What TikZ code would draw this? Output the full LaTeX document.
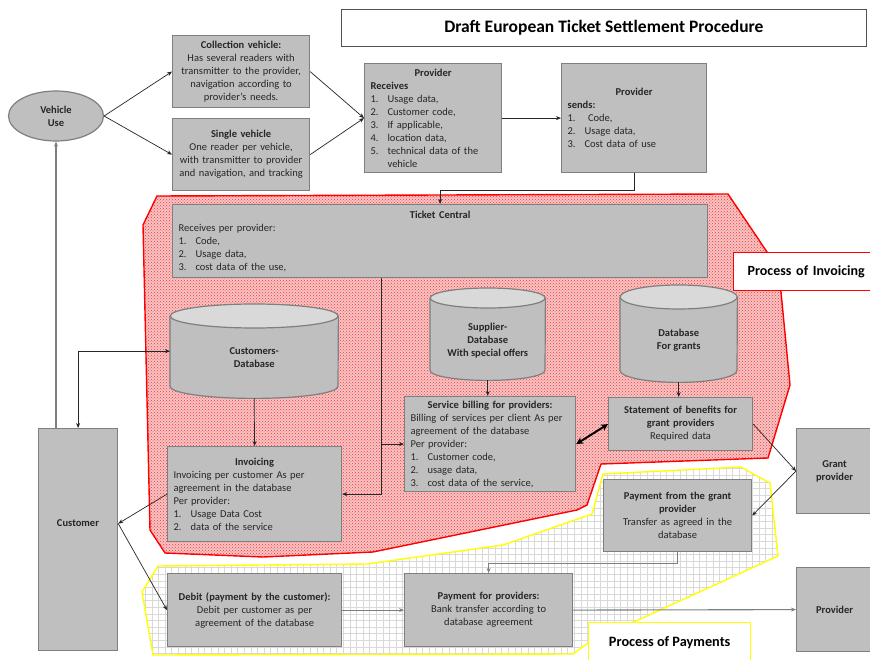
\documentclass[tikz,border=0pt]{standalone}
\usepackage{fontspec}
\setmainfont{Carlito}
\usetikzlibrary{arrows.meta,shapes.geometric,patterns}
\definecolor{boxfill}{HTML}{BFBFBF}
\definecolor{boxline}{HTML}{7F7F7F}
\definecolor{cyltop}{HTML}{D9D9D9}
\definecolor{ln}{HTML}{262626}
\definecolor{pinkbg}{HTML}{F5C4C4}
\definecolor{ylw}{HTML}{FFFF00}
\newcommand\fs{\fontsize{10.5pt}{13pt}\selectfont}
\newcommand\li[2]{\par\hangindent=17pt\hangafter=1\noindent\makebox[17pt][l]{#1}#2\par}
\newcommand\cyl[3]{%
  \draw[boxline, line width=1.2pt, fill=boxfill] ([yshift=-#3pt]#1.north west) -- ([yshift=#3pt]#1.south west)
     arc[start angle=180, end angle=360, x radius=#2pt, y radius=#3pt] -- ([yshift=-#3pt]#1.north east);
  \draw[boxline, line width=1.2pt, fill=cyltop] ([yshift=-#3pt]#1.north) ellipse[x radius=#2pt, y radius=#3pt];}
\tikzset{
  box/.style={draw=boxline, fill=boxfill, line width=1.2pt, inner xsep=6pt, inner ysep=1pt,
    font=\fs, anchor=north west, text=ln},
  cbox/.style={box, align=center},
  lbox/.style={box, align=left},
  dbnode/.style={anchor=north west, inner sep=0pt},
  dblabel/.style={font=\fs\bfseries, align=center, text=ln},
  arr/.style={draw=ln, line width=0.7pt, -{Stealth[length=5pt,width=4pt]}},
  arrtwo/.style={draw=ln, line width=0.7pt, {Stealth[length=5pt,width=4pt]}-{Stealth[length=5pt,width=4pt]}},
  garr/.style={draw=boxline, line width=1.1pt, -{Stealth[length=5pt,width=4pt]}},
  region/.style={line width=1.4pt},
}
\def\redpoly{(157,196) -- (728,194) -- (767,252) -- (781,292) -- (790,385) -- (768,458) -- (601,464) -- (587,505) -- (577,510) -- (373,552) -- (263,557) -- (165,553) -- (150,530) -- (143,225) -- cycle}
\def\ylwpoly{(158,566) -- (367,564) -- (503,545) -- (592,514) -- (603,474) -- (741,467) -- (770,483) -- (778,556) -- (588,643) -- (573,654) -- (153,655) -- (142,592) -- cycle}
\begin{document}
\begin{tikzpicture}[x=1pt,y=-1pt]
\useasboundingbox (0,0) rectangle (870,660);
\clip (0,0) rectangle (870,660);
\fill[white] (0,0) rectangle (870,660);
% ---- invoicing region
\fill[pinkbg] \redpoly;
\fill[pattern=crosshatch dots, pattern color=red!80] \redpoly;
\draw[red, region] \redpoly;
% ---- payments region
\begin{scope}
\clip \ylwpoly;
\draw[gray!30, line width=0.5pt, step=6.6pt] (130,460) grid (790,660);
\end{scope}
\draw[ylw, region] \ylwpoly;

% ---- title
\node[draw=ln!80, line width=0.8pt, fill=white, anchor=north west, minimum width=525pt, minimum height=37pt,
  font=\bfseries\fontsize{17.5pt}{20pt}\selectfont, text=black] (title) at (341,9) {Draft European Ticket Settlement Procedure};

% ---- nodes
\node[ellipse, draw=boxline, fill=boxfill, line width=1.2pt, minimum width=95pt, minimum height=50pt,
  inner sep=0pt, align=center, font=\fs\bfseries, text=ln] (veh) at (56,116) {Vehicle\\Use};

\node[cbox, minimum width=137pt, minimum height=72pt, text width=125pt] (coll) at (172,35)
  {\textbf{Collection vehicle:}\\Has several readers with\\transmitter to the provider,\\navigation according to\\provider's needs.};
\node[cbox, minimum width=137pt, minimum height=72pt, text width=125pt] (single) at (172,118)
  {\textbf{Single vehicle}\\One reader per vehicle,\\with transmitter to provider\\and navigation, and tracking};

\node[lbox, minimum width=137pt, minimum height=109pt, text width=125pt] (provA) at (364,63)
  {{\centering\textbf{Provider}\par}\noindent\textbf{Receives}\par
   \li{1.}{Usage data,}\li{2.}{Customer code,}\li{3.}{If applicable,}\li{4.}{location data,}\li{5.}{technical data of the vehicle}};
\node[lbox, minimum width=145pt, minimum height=109pt, text width=133pt] (provB) at (561,63)
  {{\centering\textbf{Provider}\par}\noindent\textbf{sends:}\par
   \li{1.}{\ Code,}\li{2.}{Usage data,}\li{3.}{Cost data of use}};

\node[lbox, minimum width=535pt, minimum height=73pt, text width=523pt] (tc) at (172,204)
  {{\centering\textbf{Ticket Central}\par}\noindent Receives per provider:\par
   \li{1.}{Code,}\li{2.}{Usage data,}\li{3.}{cost data of the use,}};

% databases (named areas; cylinders drawn on them)
\node[dbnode, minimum width=168pt, minimum height=94pt] (cdb) at (170,304) {};
\node[dbnode, minimum width=115pt, minimum height=92pt] (sdb) at (430,288) {};
\node[dbnode, minimum width=117pt, minimum height=97pt] (gdb) at (620,285) {};
\cyl{cdb}{84}{12}
\cyl{sdb}{57.5}{10}
\cyl{gdb}{58.5}{12}
\node[dblabel] (cdbtext) at ([yshift=-6.5pt]cdb.center) {Customers-\\Database};
\node[dblabel] (sdbtext) at ([yshift=-6.5pt]sdb.center) {Supplier-\\Database\\With special offers};
\node[dblabel] (gdbtext) at ([yshift=-6.5pt]gdb.center) {Database\\For grants};

\node[lbox, minimum width=174pt, minimum height=95pt, text width=162pt] (inv) at (167,446)
  {{\centering\textbf{Invoicing}\par}\noindent Invoicing per customer As per\par\noindent agreement in the database\par\noindent Per provider:\par
   \li{1.}{Usage Data Cost}\li{2.}{data of the service}};
\node[lbox, minimum width=171pt, minimum height=95pt, text width=159pt] (sb) at (404,396)
  {{\centering\textbf{Service billing for providers:}\par}\noindent Billing of services per client As per\par\noindent agreement of the database\par\noindent Per provider:\par
   \li{1.}{Customer code,}\li{2.}{usage data,}\li{3.}{cost data of the service,}};
\node[cbox, minimum width=144pt, minimum height=53pt, text width=132pt] (stmt) at (608,397)
  {\textbf{Statement of benefits for}\\\textbf{grant providers}\\Required data};
\node[cbox, minimum width=76pt, minimum height=85pt, font=\fs\bfseries] (gp) at (796,428) {Grant\\provider};
\node[cbox, minimum width=148pt, minimum height=72pt, text width=136pt] (pg) at (603,479)
  {\textbf{Payment from the grant}\\\textbf{provider}\\Transfer as agreed in the\\database};

\node[box, minimum width=79pt, minimum height=222pt] (cust) at (38,428) {};
\node[font=\fs\bfseries, text=ln] (custlbl) at (78,523) {Customer};

\node[cbox, minimum width=174pt, minimum height=73pt, text width=162pt] (deb) at (167,573)
  {\textbf{Debit (payment by the customer):}\\Debit per customer as per\\agreement of the database};
\node[cbox, minimum width=168pt, minimum height=73pt, text width=156pt] (pp) at (404,573)
  {\textbf{Payment for providers:}\\Bank transfer according to\\database agreement};
\node[cbox, minimum width=76pt, minimum height=84pt, font=\fs\bfseries] (provC) at (796,567) {Provider};

% labels
\node[draw=red, line width=1.4pt, fill=white, anchor=north west, minimum width=150pt, minimum height=38pt,
  inner xsep=14pt, text width=122pt, align=left, font=\bfseries\fontsize{14pt}{16pt}\selectfont] (pinv) at (733,252) {Process of Invoicing};
\node[draw=ylw, line width=1.4pt, fill=white, anchor=north west, minimum width=162pt, minimum height=40pt,
  font=\bfseries\fontsize{14.3pt}{16pt}\selectfont] (ppay) at (588,622) {Process of Payments};

% ---- connectors
\draw[arr] (veh.east) -- (coll.west);
\draw[arr] (veh.east) -- (single.west);
\draw[arr] (coll.east) -- (provA.west);
\draw[arr] (single.east) -- (provA.west);
\draw[arr] (provA.east) -- (provB.west);
\draw[arr] (provB.south) -- ++(0,17) -| (tc.north);
\draw[arr] ([xshift=209pt]tc.south west) |- (inv.east);
\draw[arr] ([xshift=209pt]tc.south west) |- (sb.west);
\draw[arr] (cdb.south) -- (inv.north);
\draw[arr] (sdb.south) -- (sdb.south |- sb.north);
\draw[arr] (gdb.south) -- (gdb.south |- stmt.north);
\draw[line width=2pt, {Stealth[length=7pt,width=7pt]}-{Stealth[length=7pt,width=7pt]}] (sb.east) -- (stmt.west);
\draw[arr] (stmt.east) -- (gp.west);
\draw[arr] (gp.west) -- (pg.east);
\draw[garr] (pg.south) -- ++(0,11) -| (pp.north);
\draw[garr] ([xshift=18pt]cust.north west) -- (veh.south);
\draw[arrtwo] (cust.north) |- (cdb.west);
\draw[arr] (inv.west) -- ([yshift=16pt]cust.east);
\draw[arr] ([yshift=16pt]cust.east) -- (deb.west);
\draw[garr] (deb.east) -- (pp.west);
\draw[garr] (pp.east) -- (provC.west);
\end{tikzpicture}
\end{document}
